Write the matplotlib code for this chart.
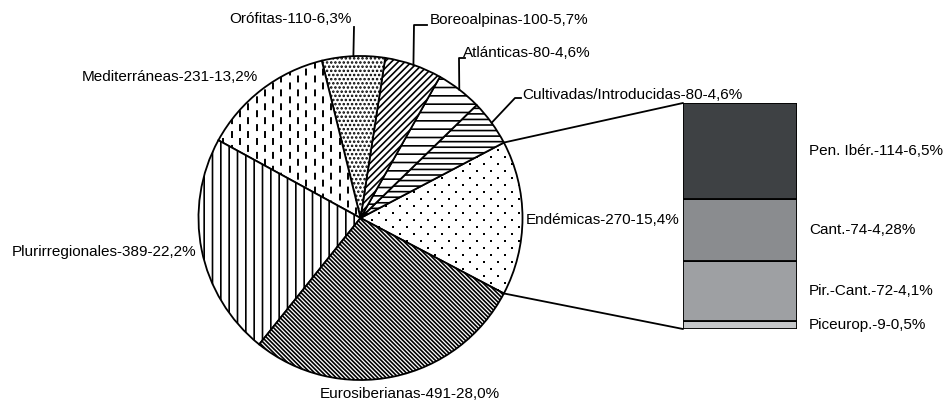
import numpy as np
import matplotlib
matplotlib.use('Agg')
import matplotlib.pyplot as plt
from matplotlib.patches import ConnectionPatch
from matplotlib.lines import Line2D

# datos del gráfico (corología)
labels = ['Endémicas', 'Cultivadas/Introducidas', 'Atlánticas', 'Boreoalpinas',
          'Orófitas', 'Mediterráneas', 'Plurirregionales', 'Eurosiberianas']
counts = [270, 80, 80, 100, 110, 231, 389, 491]
pcts = ['15,4', '4,6', '4,6', '5,7', '6,3', '13,2', '22,2', '28,0']

# desglose de endémicas (barra)
sub_labels = ['Pen. Ibér.', 'Cant.', 'Pir.-Cant.', 'Piceurop.']
sub_counts = [114, 74, 72, 9]
sub_pcts = ['6,5', '4,28', '4,1', '0,5']

plt.rcParams['font.family'] = ['Liberation Sans', 'DejaVu Sans']
plt.rcParams['hatch.linewidth'] = 1.2
plt.rcParams['lines.scale_dashes'] = False

W, H = 945, 401
fig = plt.figure(figsize=(W / 100, H / 100), dpi=100)

def px(x, y):
    # pixel (desde arriba-izquierda) -> fraccion de figura
    return x / W, 1 - y / H

# pie
cx, cy, r = 360.5, 218, 162
half = 170
ax_pie = fig.add_axes([(cx - half) / W, (H - cy - half) / H, 2 * half / W, 2 * half / H])
start = -360 * counts[0] / sum(counts) / 2
# tramas: None = dibujada a mano
hatches = [None, '---', '--', '/////', '....', None, '||', '\\' * 8]
wedges, _ = ax_pie.pie(counts, startangle=start, counterclock=True,
                       colors=['white'] * len(counts),
                       wedgeprops=dict(edgecolor='black', linewidth=1.3))
for w, h in zip(wedges, hatches):
    if h:
        w.set_hatch(h)
ax_pie.set_xlim(-half / r, half / r)
ax_pie.set_ylim(-half / r, half / r)
ax_pie.axis('off')

# Endémicas: puntos espaciados al tresbolillo
dx, dy = 14.0 / r, 7.0 / r
pts_x, pts_y = [], []
for j, yv in enumerate(np.arange(-1.05, 1.05, dy)):
    sh = dx / 2 if j % 2 else 0
    for xv in np.arange(-1.05 + sh, 1.05, dx):
        pts_x.append(xv)
        pts_y.append(yv)
dots, = ax_pie.plot(pts_x, pts_y, 's', ms=1.5, mew=0, color='black')
dots.set_clip_path(wedges[0])

# Mediterráneas: rayas verticales discontinuas
med = wedges[5]
step = 8.3 / r
for i, xv in enumerate(np.arange(-1, 1, step)):
    ln, = ax_pie.plot([xv, xv], [-1.05, 1.05], color='black', lw=1.4,
                      linestyle=(0 if i % 2 == 0 else 5, (5, 5)))
    ln.set_clip_path(med)

# barra
ax_bar = fig.add_axes([683 / W, (H - 329) / H, 114 / W, 226 / H])
bar_colors = ['#3e4144', '#8a8c8f', '#9ea0a3', '#c5c7c9']
bottom = 0
centers = {}
for lab, val, col in reversed(list(zip(sub_labels, sub_counts, bar_colors))):
    ax_bar.bar(0, val, width=1, bottom=bottom, color=col, edgecolor='black', linewidth=1.3)
    centers[lab] = bottom + val / 2
    bottom += val
ax_bar.set_xlim(-0.5, 0.5)
ax_bar.set_ylim(0, sum(sub_counts))
ax_bar.axis('off')
for lab, val, p in zip(sub_labels, sub_counts, sub_pcts):
    ax_bar.text((809 - 683) / 114, centers[lab], '%s-%d-%s%%' % (lab, val, p),
                transform=ax_bar.get_yaxis_transform(), va='center', ha='left', fontsize=11)

# lineas de union
t1 = np.deg2rad(wedges[0].theta1)
t2 = np.deg2rad(wedges[0].theta2)
for t, yb in [(t2, 1), (t1, 0)]:
    con = ConnectionPatch(xyA=(np.cos(t), np.sin(t)), coordsA=ax_pie.transData,
                          xyB=(0, yb), coordsB=ax_bar.transAxes,
                          color='black', linewidth=1.3)
    fig.add_artist(con)

# etiquetas
def edge(i):
    w = wedges[i]
    a = np.deg2rad((w.theta1 + w.theta2) / 2)
    p = ax_pie.transData.transform((np.cos(a), np.sin(a)))
    return fig.transFigure.inverted().transform(p)

def txt(i, x, y, ha='left'):
    fig.text(*px(x, y), '%s-%d-%s%%' % (labels[i], counts[i], pcts[i]),
             ha=ha, va='center', fontsize=11)

def leader(i, pts):
    e = edge(i)
    xs = [e[0]] + [px(*p)[0] for p in pts]
    ys = [e[1]] + [px(*p)[1] for p in pts]
    fig.add_artist(Line2D(xs, ys, color='black', lw=1.3, transform=fig.transFigure))

txt(0, 680, 220, ha='right')
txt(1, 522, 95)
leader(1, [(515, 98), (521, 98)])
txt(2, 463, 53)
leader(2, [(459, 58), (465, 58)])
txt(3, 430, 20)
leader(3, [(414, 25), (427, 25)])
txt(4, 352, 19, ha='right')
leader(4, [(354, 27)])
txt(5, 82, 77)
txt(6, 12, 252)
txt(7, 500, 394, ha='right')

fig.savefig('out.png', dpi=100)
